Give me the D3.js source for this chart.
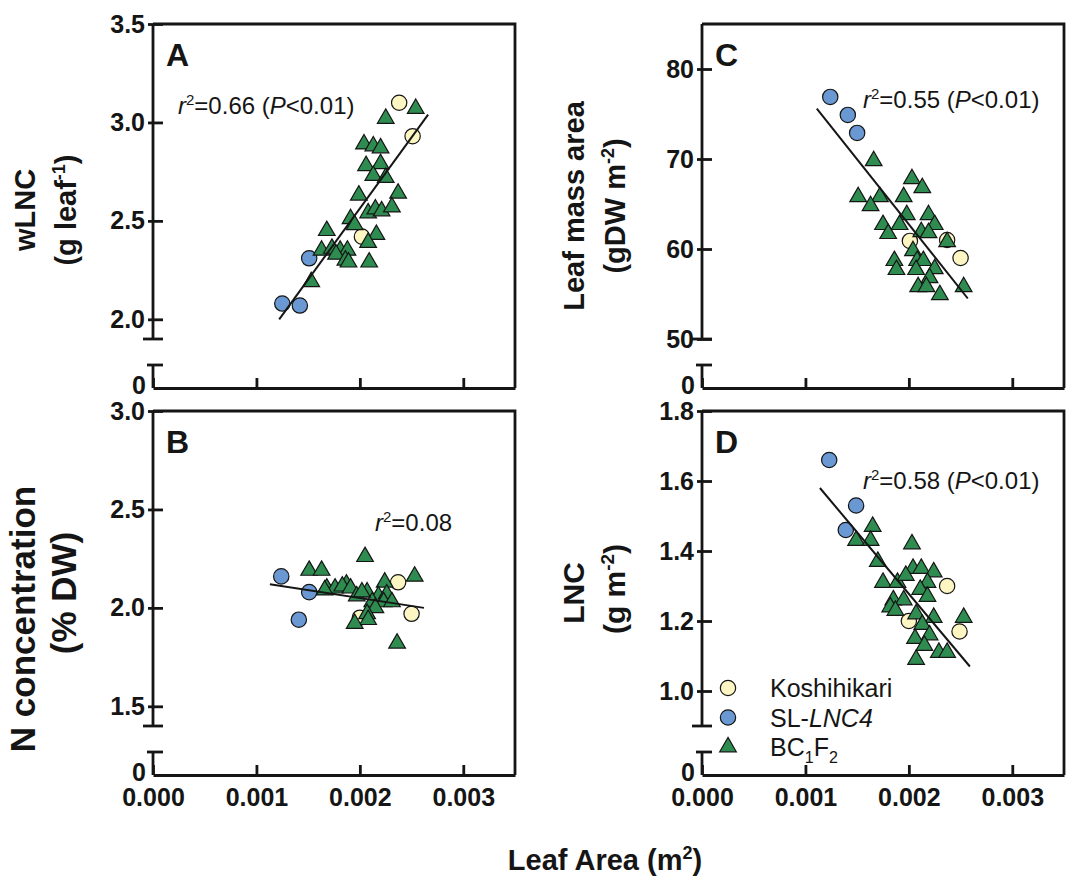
<!DOCTYPE html>
<html>
<head>
<meta charset="utf-8">
<script src="https://cdn.jsdelivr.net/npm/d3@7"></script>
<style>
  body { margin: 0; background: #fff; }
  svg { font-family: "Liberation Sans", Arial, Helvetica, sans-serif; }
</style>
</head>
<body>
<div id="chart"></div>
<script>
// values, each point = [leaf area (m2), value]
var xTicks = [0, 0.001, 0.002, 0.003];

// A: wLNC (g leaf-1)
var kosA = [[0.00238, 3.10], [0.00251, 2.93], [0.00202, 2.42]];
var slA = [[0.00151, 2.31], [0.00125, 2.08], [0.00142, 2.07]];
var bcA = [[0.00225, 3.02], [0.00254, 3.07], [0.00204, 2.89], [0.00213, 2.88], [0.00220, 2.87],
  [0.00206, 2.78], [0.00220, 2.79], [0.00213, 2.73], [0.00225, 2.72], [0.00199, 2.63],
  [0.00237, 2.64], [0.00208, 2.54], [0.00215, 2.56], [0.00221, 2.55], [0.00231, 2.57],
  [0.00191, 2.51], [0.00195, 2.48], [0.00168, 2.45], [0.00216, 2.43], [0.00208, 2.39],
  [0.00163, 2.35], [0.00173, 2.36], [0.00181, 2.35], [0.00188, 2.35], [0.00177, 2.33],
  [0.00186, 2.30], [0.00189, 2.29], [0.00209, 2.29], [0.00153, 2.19]];
var fitA = [[0.00122, 2.00], [0.00266, 3.04]];
var ticksA = [2.0, 2.5, 3.0, 3.5];

// B: N concentration (% DW)
var kosB = [[0.00237, 2.13], [0.00250, 1.97], [0.00200, 1.95]];
var slB = [[0.00124, 2.16], [0.00151, 2.08], [0.00141, 1.94]];
var bcB = [[0.00205, 2.26], [0.00151, 2.19], [0.00163, 2.19], [0.00253, 2.16], [0.00187, 2.12],
  [0.00224, 2.13], [0.00168, 2.10], [0.00176, 2.10], [0.00183, 2.11], [0.00191, 2.10],
  [0.00197, 2.06], [0.00207, 2.08], [0.00218, 2.06], [0.00226, 2.07], [0.00212, 2.03],
  [0.00223, 2.03], [0.00231, 2.03], [0.00215, 2.00], [0.00207, 1.97], [0.00208, 1.94],
  [0.00195, 1.92], [0.00236, 1.82], [0.00166, 2.09], [0.00202, 2.08]];
var fitB = [[0.00113, 2.12], [0.00262, 2.00]];
var ticksB = [1.5, 2.0, 2.5, 3.0];

// C: Leaf mass area (gDW m-2)
var kosC = [[0.00201, 60.9], [0.00237, 61.0], [0.00250, 59.0]];
var slC = [[0.00124, 76.9], [0.00141, 74.9], [0.00150, 72.9]];
var bcC = [[0.00166, 69.8], [0.00203, 67.8], [0.00213, 66.8], [0.00151, 65.8], [0.00172, 65.8],
  [0.00195, 65.8], [0.00163, 64.8], [0.00198, 63.8], [0.00219, 63.8], [0.00175, 62.7],
  [0.00191, 62.7], [0.00225, 62.7], [0.00212, 61.9], [0.00180, 61.7], [0.00219, 61.8],
  [0.00237, 60.8], [0.00204, 59.8], [0.00186, 58.7], [0.00208, 58.7], [0.00214, 58.7],
  [0.00188, 57.7], [0.00207, 57.7], [0.00225, 57.8], [0.00220, 56.8], [0.00209, 55.8],
  [0.00217, 55.8], [0.00253, 55.8], [0.00230, 54.9]];
var fitC = [[0.00111, 75.6], [0.00257, 54.5]];
var ticksC = [50, 60, 70, 80];

// D: LNC (g m-2)
var kosD = [[0.00237, 1.30], [0.00200, 1.20], [0.00249, 1.17]];
var slD = [[0.00123, 1.66], [0.00149, 1.53], [0.00139, 1.46]];
var bcD = [[0.00165, 1.47], [0.00149, 1.43], [0.00163, 1.43], [0.00170, 1.37], [0.00203, 1.42],
  [0.00204, 1.35], [0.00212, 1.35], [0.00224, 1.34], [0.00175, 1.31], [0.00189, 1.31],
  [0.00197, 1.33], [0.00218, 1.31], [0.00211, 1.29], [0.00218, 1.27], [0.00185, 1.26],
  [0.00195, 1.26], [0.00182, 1.24], [0.00187, 1.23], [0.00207, 1.22], [0.00224, 1.21],
  [0.00253, 1.21], [0.00213, 1.19], [0.00220, 1.16], [0.00206, 1.15], [0.00215, 1.13],
  [0.00229, 1.11], [0.00237, 1.11], [0.00207, 1.09]];
var fitD = [[0.00114, 1.58], [0.00259, 1.07]];
var ticksD = [1.0, 1.2, 1.4, 1.6, 1.8];

var groups = ["Koshihikari", "SL-LNC4", "BC1F2"];
var colors = { "Koshihikari": "#fdf5c2", "SL-LNC4": "#6a98d2", "BC1F2": "#2f8c50" };

// panel setup
var W = 1074, H = 877;
var pw = 362, ph = 364;
var segEnd = 315, segStart = 341; // broken y axis: upper piece ends, lower piece (0) starts
var ink = "#151515";

var panels = [
  { id: "A", left: 153, top: 24, dom: [1.9, 3.5], ticks: ticksA, fmt: ".1f", data: [kosA, slA, bcA], fit: fitA,
    t1: [{ t: "wLNC" }], t2: [{ t: "(g leaf" }, { t: "-1", sup: 1 }, { t: ")" }], ts: 29, c1: 4, c2: 4,
    note: [{ t: "r", it: 1 }, { t: "2", sup: 1 }, { t: "=0.66 (" }, { t: "P", it: 1 }, { t: "<0.01)" }], nx: 25, ny: 90, xlab: false },
  { id: "B", left: 153, top: 411, dom: [1.4, 3.0], ticks: ticksB, fmt: ".1f", data: [kosB, slB, bcB], fit: fitB,
    t1: [{ t: "N concentration" }], t2: [{ t: "(% DW)" }], ts: 35, c1: 26, c2: 0,
    note: [{ t: "r", it: 1 }, { t: "2", sup: 1 }, { t: "=0.08" }], nx: 222, ny: 120, xlab: true },
  { id: "C", left: 702, top: 24, dom: [50, 85], ticks: ticksC, fmt: "d", data: [kosC, slC, bcC], fit: fitC,
    t1: [{ t: "Leaf mass area" }], t2: [{ t: "(gDW m" }, { t: "-2", sup: 1 }, { t: ")" }], ts: 29, c1: 0, c2: 0,
    note: [{ t: "r", it: 1 }, { t: "2", sup: 1 }, { t: "=0.55 (" }, { t: "P", it: 1 }, { t: "<0.01)" }], nx: 161, ny: 84, xlab: false },
  { id: "D", left: 702, top: 411, dom: [0.9, 1.8], ticks: ticksD, fmt: ".1f", data: [kosD, slD, bcD], fit: fitD,
    t1: [{ t: "LNC" }], t2: [{ t: "(g m" }, { t: "-2", sup: 1 }, { t: ")" }], ts: 30, c1: 0, c2: -4,
    note: [{ t: "r", it: 1 }, { t: "2", sup: 1 }, { t: "=0.58 (" }, { t: "P", it: 1 }, { t: "<0.01)" }], nx: 161, ny: 78, xlab: true }
];

// text with super/subscripts and italics
function rich(text, parts, size) {
  var shift = 0;
  parts.forEach(function (s) {
    var ts = text.append("tspan").text(s.t);
    var target = s.sup ? -size * 0.38 : (s.sub ? size * 0.28 : 0);
    if (target - shift !== 0) ts.attr("dy", target - shift);
    shift = target;
    if (s.sup || s.sub) ts.attr("font-size", Math.round(size * 0.62));
    if (s.it) ts.attr("font-style", "italic");
  });
}

var svg = d3.select("#chart").append("svg")
  .attr("width", W)
  .attr("height", H);
svg.append("rect").attr("width", W).attr("height", H).attr("fill", "#fff");

var x = d3.scaleLinear().domain([0, 0.0035]).range([0, pw]);

var circle = d3.symbol().type(d3.symbolCircle).size(185);
var tri = d3.symbol().type(d3.symbolTriangle).size(120);

function styleAxis(a) {
  a.attr("font-family", null).attr("font-size", 25).attr("font-weight", "bold");
  a.selectAll("path, line").attr("stroke", ink).attr("stroke-width", 2.8);
  a.selectAll("text").attr("fill", ink);
}

panels.forEach(function (p) {
  var g = svg.append("g").attr("transform", "translate(" + p.left + "," + p.top + ")");
  var y = d3.scaleLinear().domain(p.dom).range([segEnd, 0]);
  var yLow = d3.scaleLinear().domain([0, 1]).range([ph, segStart - 40]);

  // top and right frame
  g.append("path")
    .attr("d", "M0,0H" + pw + "V" + ph)
    .attr("fill", "none")
    .attr("stroke", ink)
    .attr("stroke-width", 2.8);

  // x axis, ticks pointing up
  var xa = g.append("g")
    .attr("transform", "translate(0," + ph + ")")
    .call(d3.axisBottom(x).tickValues(xTicks).tickSizeInner(-10).tickSizeOuter(0).tickPadding(13)
      .tickFormat(p.xlab ? d3.format(".3f") : ""));
  styleAxis(xa);

  // upper piece of y axis
  var ya = g.append("g")
    .call(d3.axisLeft(y).tickValues(p.ticks).tickSizeInner(5).tickSizeOuter(0).tickPadding(3)
      .tickFormat(d3.format(p.fmt)));
  styleAxis(ya);
  ya.selectAll(".tick line").attr("x1", 10);
  ya.select(".domain").attr("d", "M0," + segEnd + "V0");
  g.append("line").attr("x1", -10).attr("x2", 10).attr("y1", segEnd).attr("y2", segEnd)
    .attr("stroke", ink).attr("stroke-width", 2.8);

  // lower piece (0)
  var yl = g.append("g")
    .call(d3.axisLeft(yLow).tickValues([0]).tickSizeInner(0).tickSizeOuter(0).tickPadding(7)
      .tickFormat(d3.format("d")));
  styleAxis(yl);
  yl.select(".domain").attr("d", "M0," + ph + "V" + segStart);
  yl.selectAll(".tick text").attr("dy", "0.2em");
  g.append("line").attr("x1", -6).attr("x2", 10).attr("y1", segStart).attr("y2", segStart)
    .attr("stroke", ink).attr("stroke-width", 2.8);

  // points: Koshihikari, SL-LNC4, then BC1F2 on top
  p.data.forEach(function (arr, i) {
    g.append("g").selectAll("path")
      .data(arr)
      .enter().append("path")
      .attr("transform", function (d) { return "translate(" + x(d[0]) + "," + y(d[1]) + ")"; })
      .attr("d", i < 2 ? circle : tri)
      .attr("fill", colors[groups[i]])
      .attr("stroke", ink)
      .attr("stroke-width", 1.2);
  });

  // regression line
  g.append("path")
    .datum(p.fit)
    .attr("d", d3.line().x(function (d) { return x(d[0]); }).y(function (d) { return y(d[1]); }))
    .attr("stroke", ink)
    .attr("stroke-width", 2)
    .attr("fill", "none");

  // panel letter
  g.append("text").attr("x", 13).attr("y", 42)
    .attr("font-size", 32).attr("font-weight", "bold").attr("fill", ink)
    .text(p.id);

  // r2 note
  var nt = g.append("text").attr("x", p.nx).attr("y", p.ny)
    .attr("font-size", 24).attr("fill", ink);
  rich(nt, p.note, 24);

  // y axis title, two lines
  [[p.t1, -118, p.c1], [p.t2, -77, p.c2]].forEach(function (t) {
    var tt = g.append("text")
      .attr("transform", "translate(" + t[1] + "," + (ph / 2 + t[2]) + ") rotate(-90)")
      .attr("text-anchor", "middle")
      .attr("font-size", p.ts).attr("font-weight", "bold").attr("fill", ink);
    rich(tt, t[0], p.ts);
  });

  // legend in panel D
  if (p.id === "D") {
    var legLabels = [[{ t: "Koshihikari" }], [{ t: "SL-" }, { t: "LNC4", it: 1 }],
      [{ t: "BC" }, { t: "1", sub: 1 }, { t: "F" }, { t: "2", sub: 1 }]];
    groups.forEach(function (k, i) {
      var ly = 277 + i * 29.5;
      g.append("path")
        .attr("transform", "translate(26," + ly + ")")
        .attr("d", i < 2 ? circle : tri)
        .attr("fill", colors[k]).attr("stroke", ink).attr("stroke-width", 1.2);
      var lt = g.append("text").attr("x", 68).attr("y", ly + 9)
        .attr("font-size", 25).attr("fill", ink);
      rich(lt, legLabels[i], 25);
    });
  }
});

// shared x title
var xt = svg.append("text")
  .attr("x", 605).attr("y", 870)
  .attr("text-anchor", "middle")
  .attr("font-size", 29).attr("font-weight", "bold").attr("fill", ink);
rich(xt, [{ t: "Leaf Area (m" }, { t: "2", sup: 1 }, { t: ")" }], 29);
</script>
</body>
</html>
